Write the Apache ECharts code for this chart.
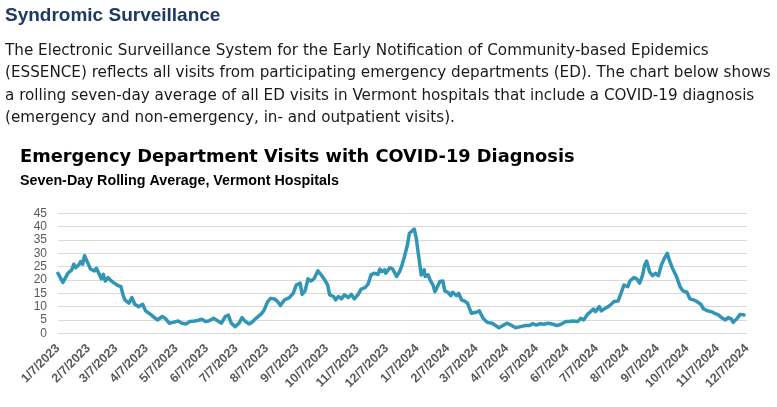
<!DOCTYPE html>
<html>
<head>
<meta charset="utf-8">
<script src="https://cdn.jsdelivr.net/npm/echarts@6/dist/echarts.min.js"></script>
<style>
html,body{margin:0;padding:0;background:#fff;}
#chart{width:777px;height:407px;}
</style>
</head>
<body>
<div id="chart"></div>
<script>
// Days since 1/7/2023 and the seven-day rolling average of ED visits
const days = [0,5,10,14,16,18,21,23,25,27,30,33,35,37,39,42,44,46,48,51,53,56,60,64,66,68,72,75,78,82,86,89,94,98,101,106,109,113,117,122,126,130,134,139,143,146,150,153,158,161,166,170,173,
176,180,184,187,190,194,197,202,206,209,213,216,220,223,226,230,232,235,239,242,246,248,251,254,257,260,264,267,271,274,276,280,282,285,288,291,295,298,301,305,308,312,315,318,321,325,327,329,332,333,337,340,344,347,
349,352,355,357,362,364,366,367,369,372,373,376,378,381,383,385,388,391,393,396,399,401,405,407,410,413,416,420,425,428,432,436,441,443,448,452,456,460,465,470,475,479,482,486,490,494,498,503,507,511,516,520,523,
528,531,534,538,540,544,546,550,552,556,559,562,565,569,572,575,579,581,585,588,591,594,596,598,601,604,607,610,613,616,619,621,624,628,630,632,635,639,642,646,649,653,656,660,664,667,671,674,678,681,684,686,690,693,697];
const visits = [22.5,19.1,22.5,23.8,25.9,24.6,25.6,26.9,25.9,29.1,26.6,24.1,24.6,23.4,24.4,22.1,20.4,22.1,19.6,20.9,20,19.1,18.1,17.5,14.4,12.5,11.3,13.4,10.9,10,10.9,8.4,7.1,5.9,5,6.3,5.6,3.8,4.1,4.6,3.8,3.5,4.4,4.6,4.9,5.3,4.4,4.6,5.6,5,3.8,6.3,6.8,
3.8,2.5,3.8,5.9,4.6,3.5,4.1,5.9,7.1,8.4,11.9,13.1,12.9,11.9,10.4,12.5,13.1,13.4,15,18.1,18.8,14.6,15.9,20.4,19.6,20.4,23.4,22.1,20,18.1,14.4,13.8,12.5,13.8,12.9,14.4,13.4,14.6,12.9,14.6,16.6,17.1,18.4,21.9,22.5,22.1,24.1,23.1,23.8,22.5,24.6,24.1,21.3,23.1,
25,28.8,33.1,37.5,39.1,35.6,30,27.5,21.9,23.8,21.3,21.9,20,18.1,15.6,16.3,19.4,19.6,15.9,15.4,14.1,15.4,14.1,15,12.5,12.1,11.3,7.5,7.9,8.4,5.6,4.1,3.8,4.1,2.1,2.9,3.8,3.1,2.1,2.5,2.9,2.9,3.6,3.1,3.6,3.4,3.8,3.4,2.9,3.4,4.4,4.4,4.6,
4.4,5.6,5,7.1,6.6,9.1,8.1,10,8.4,9.4,10,10.9,11.9,12.1,15,18.1,17.5,19.6,20.9,20.4,18.8,21.9,25.6,27.1,23.1,21.6,22.5,21.6,25.6,28.1,30,27.5,24.6,21.6,21.3,17.5,15.9,15.4,12.9,12.5,11.9,10.9,9.1,8.4,8.1,7.5,6.9,5.9,5,5.9,5.4,4.1,5.6,7.1,6.9];
const tickLabels = ['1/7/2023','2/7/2023','3/7/2023','4/7/2023','5/7/2023','6/7/2023','7/7/2023','8/7/2023','9/7/2023','10/7/2023','11/7/2023','12/7/2023',
'1/7/2024','2/7/2024','3/7/2024','4/7/2024','5/7/2024','6/7/2024','7/7/2024','8/7/2024','9/7/2024','10/7/2024','11/7/2024','12/7/2024'];
const yTicks = [0,5,10,15,20,25,30,35,40,45];

const pageTitle = 'Syndromic Surveillance';
const paragraph = [
  'The Electronic Surveillance System for the Early Notification of Community-based Epidemics',
  '(ESSENCE) reflects all visits from participating emergency departments (ED). The chart below shows',
  'a rolling seven-day average of all ED visits in Vermont hospitals that include a COVID-19 diagnosis',
  '(emergency and non-emergency, in- and outpatient visits).'
];
const chartTitle = 'Emergency Department Visits with COVID-19 Diagnosis';
const chartSubtitle = 'Seven-Day Rolling Average, Vermont Hospitals';

const DAY = 86400000;
const startUTC = Date.UTC(2023, 0, 7);
function dayOf(s){ const p = s.split('/').map(Number); return Math.round((Date.UTC(p[2], p[0]-1, p[1]) - startUTC)/DAY); }
const tickDays = tickLabels.map(dayOf);
const seriesData = days.map((d,i)=>[d, visits[i]]);

const chart = echarts.init(document.getElementById('chart'), null, {renderer:'canvas'});
const graphics = [{
  type:'text', left:5, top:6,
  style:{text:pageTitle, font:'bold 19px "Liberation Sans"', fill:'#1F3864'}
}];
paragraph.forEach((line,i)=>{
  graphics.push({type:'text', left:5, top:43.5 + i*22.3,
    style:{text:line, font:'15.2px "DejaVu Sans"', fill:'#1a1a1a'}});
});
graphics.push({type:'text', left:20, top:148,
  style:{text:chartTitle, font:'bold 17.8px "DejaVu Sans"', fill:'#000'}});
graphics.push({type:'text', left:20, top:174,
  style:{text:chartSubtitle, font:'bold 14.3px "Liberation Sans"', fill:'#000'}});

chart.setOption({
  animation:false,
  backgroundColor:'#fff',
  graphic: graphics,
  grid:{left:58, right:30, top:213.3, bottom:73.7, containLabel:false},
  xAxis:{
    type:'value',
    min: tickDays[0], max: tickDays[tickDays.length-1],
    axisLine:{show:false}, axisTick:{show:false}, splitLine:{show:false},
    axisLabel:{
      customValues: tickDays,
      rotate:45, margin:13, color:'#595959', fontSize:12.5, fontWeight:'bold', fontFamily:'Liberation Sans',
      hideOverlap:false,
      formatter:function(v){
        const i = tickDays.indexOf(Math.round(v));
        return i >= 0 ? tickLabels[i] : '';
      }
    }
  },
  yAxis:{
    type:'value', min:yTicks[0], max:yTicks[yTicks.length-1], interval:5,
    axisLine:{show:false}, axisTick:{show:false},
    splitLine:{lineStyle:{color:'#D9D9D9', width:1}},
    axisLabel:{color:'#595959', fontSize:12, margin:11, fontFamily:'Liberation Sans'}
  },
  series:[{
    type:'line', data: seriesData, showSymbol:false, smooth:false,
    lineStyle:{color:'#3196B6', width:3.5, cap:'round', join:'round'}
  }]
});
</script>
</body>
</html>
